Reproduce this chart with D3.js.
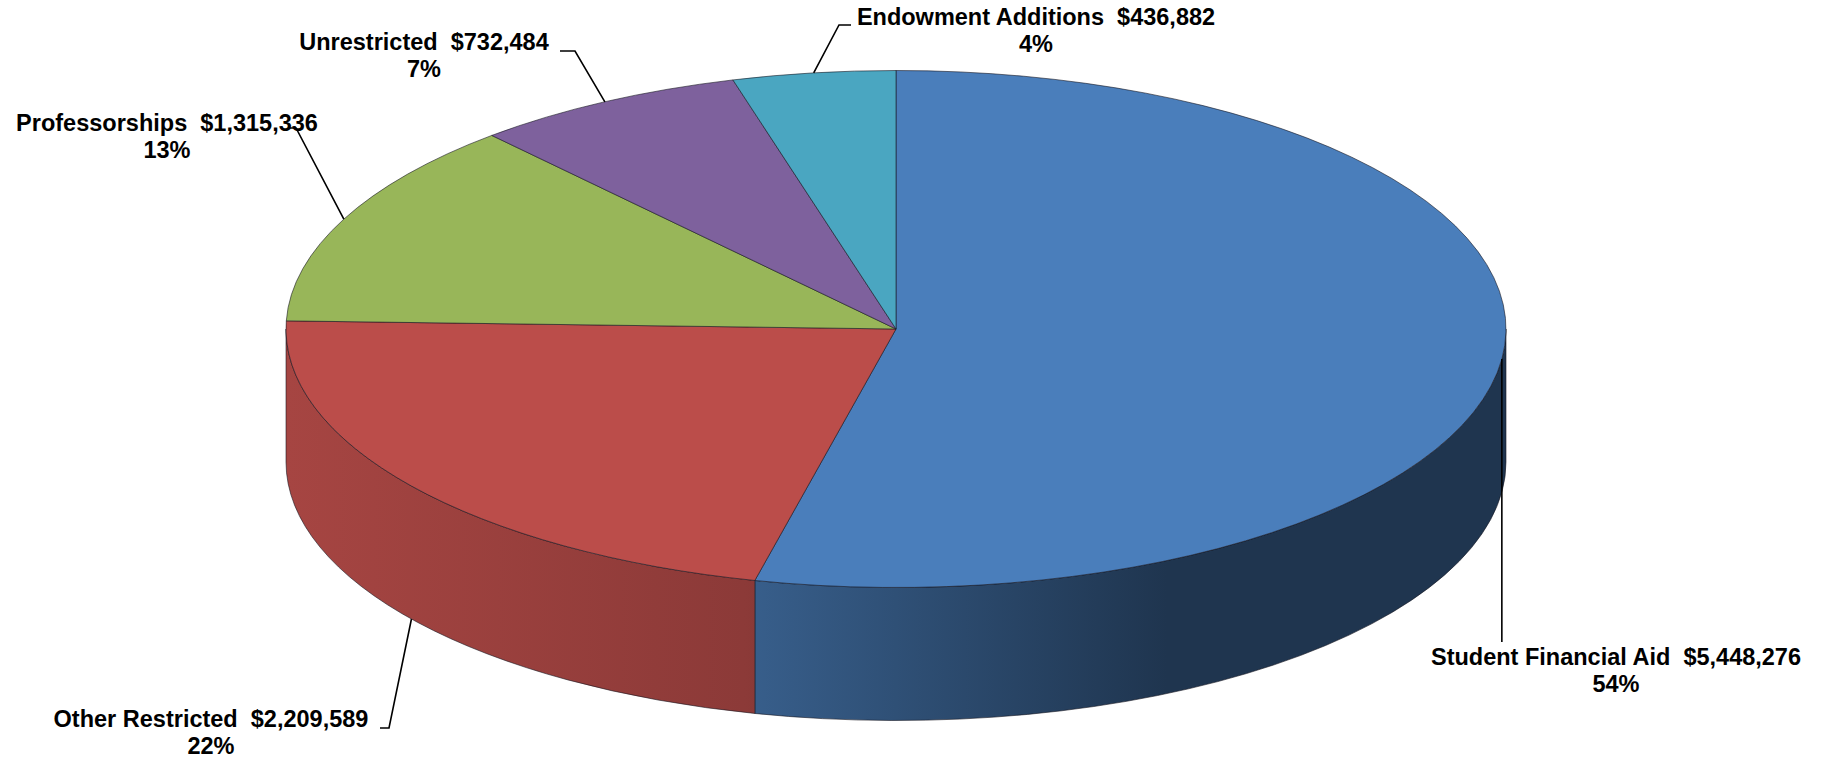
<!DOCTYPE html>
<html>
<head>
<meta charset="utf-8">
<script src="https://cdn.jsdelivr.net/npm/d3@7"></script>
<style>
  html, body { margin: 0; padding: 0; background: #ffffff; }
  svg { display: block; }
  .lbl { font-family: "Liberation Sans", Arial, sans-serif; font-weight: bold; font-size: 23.5px; fill: #000; white-space: pre; }
</style>
</head>
<body>
<svg id="chart" width="1829" height="762"></svg>
<script>
// Gift allocation by purpose
const categories = ["Student Financial Aid", "Other Restricted", "Professorships", "Unrestricted", "Endowment Additions"];
const values = [5448276, 2209589, 1315336, 732484, 436882];
const topColors = ["#4A7EBB", "#BB4D4A", "#98B659", "#7E619D", "#4AA6C1"];

// 3D pie geometry
const W = 1829, H = 762;
const cx = 896, cy = 329, rx = 610, ry = 258.5, depth = 133;

// Label placement: text centre / first baseline, and leader start segment
const labelLayout = [
  { x: 1616, y: 665, leader: "vertical", stopY: 642 },
  { x: 211, y: 727, leader: [[380, 728], [389, 728]], edge: "bottom" },
  { x: 167, y: 131, leader: [[288, 128], [296, 128]], edge: "top" },
  { x: 424, y: 50, leader: [[560, 51], [575, 51]], edge: "top" },
  { x: 1036, y: 25, leader: [[851, 25], [839, 25]], edge: "top" }
];

const svg = d3.select("#chart");
const defs = svg.append("defs");

const total = d3.sum(values);
const money = d3.format("$,");
const pct = v => Math.round(v / total * 100) + "%";

const arcs = d3.pie().sort(null).startAngle(0).endAngle(2 * Math.PI)(values);

// angle measured clockwise from 12 o'clock, projected onto the ellipse
const pt = (a, dy = 0) => [cx + rx * Math.sin(a), cy - ry * Math.cos(a) + dy];

// side shading by horizontal position (lighter on the left, dark on the right)
const shadeStops = [
  { x: cx - rx, k: 0.89 },
  { x: 744, k: 0.75 },
  { x: 1167, k: 0.42 },
  { x: cx + rx, k: 0.42 }
];
const darken = (c, k) => { const r = d3.rgb(c); return d3.rgb(r.r * k, r.g * k, r.b * k).formatHex(); };

topColors.forEach((c, i) => {
  const g = defs.append("linearGradient")
    .attr("id", "side" + i)
    .attr("gradientUnits", "userSpaceOnUse")
    .attr("x1", cx - rx).attr("x2", cx + rx).attr("y1", 0).attr("y2", 0);
  shadeStops.forEach(s => {
    g.append("stop")
      .attr("offset", (s.x - (cx - rx)) / (2 * rx))
      .attr("stop-color", darken(c, s.k));
  });
});

const edgeStroke = "rgba(20,20,30,0.65)";

// side walls (front half only: angles between PI/2 and 3PI/2)
const sides = svg.append("g");
arcs.forEach((d, i) => {
  const b0 = Math.max(d.startAngle, Math.PI / 2);
  const b1 = Math.min(d.endAngle, 3 * Math.PI / 2);
  if (b1 <= b0) return;
  const large = (b1 - b0) > Math.PI ? 1 : 0;
  const p0 = pt(b0), p1 = pt(b1), q1 = pt(b1, depth), q0 = pt(b0, depth);
  const path = `M${p0}A${rx},${ry} 0 ${large} 1 ${p1}L${q1}A${rx},${ry} 0 ${large} 0 ${q0}Z`;
  sides.append("path")
    .attr("d", path)
    .attr("fill", `url(#side${i})`)
    .attr("stroke", edgeStroke)
    .attr("stroke-width", 0.9)
    .attr("stroke-linejoin", "round");
});

// top faces
const tops = svg.append("g");
arcs.forEach((d, i) => {
  const large = (d.endAngle - d.startAngle) > Math.PI ? 1 : 0;
  const p0 = pt(d.startAngle), p1 = pt(d.endAngle);
  const path = `M${cx},${cy}L${p0}A${rx},${ry} 0 ${large} 1 ${p1}Z`;
  tops.append("path")
    .attr("d", path)
    .attr("fill", topColors[i])
    .attr("stroke", edgeStroke)
    .attr("stroke-width", 0.9)
    .attr("stroke-linejoin", "round");
});

// leader lines
const leaders = svg.append("g")
  .attr("fill", "none").attr("stroke", "#000").attr("stroke-width", 1.6);
arcs.forEach((d, i) => {
  const L = labelLayout[i];
  const mid = (d.startAngle + d.endAngle) / 2;
  if (L.leader === "vertical") {
    const a = pt(mid);
    leaders.append("path").attr("d", `M${a}L${a[0]},${L.stopY}`);
  } else {
    const a = pt(mid, L.edge === "bottom" ? depth : 0);
    leaders.append("path").attr("d", `M${L.leader[0]}L${L.leader[1]}L${a}`);
  }
});

// data labels
const labels = svg.append("g");
arcs.forEach((d, i) => {
  const L = labelLayout[i];
  const t = labels.append("text")
    .attr("class", "lbl")
    .attr("text-anchor", "middle")
    .attr("x", L.x).attr("y", L.y);
  t.append("tspan").attr("x", L.x).text(categories[i] + "  " + money(values[i]));
  t.append("tspan").attr("x", L.x).attr("dy", 27).text(pct(values[i]));
});
</script>
</body>
</html>
